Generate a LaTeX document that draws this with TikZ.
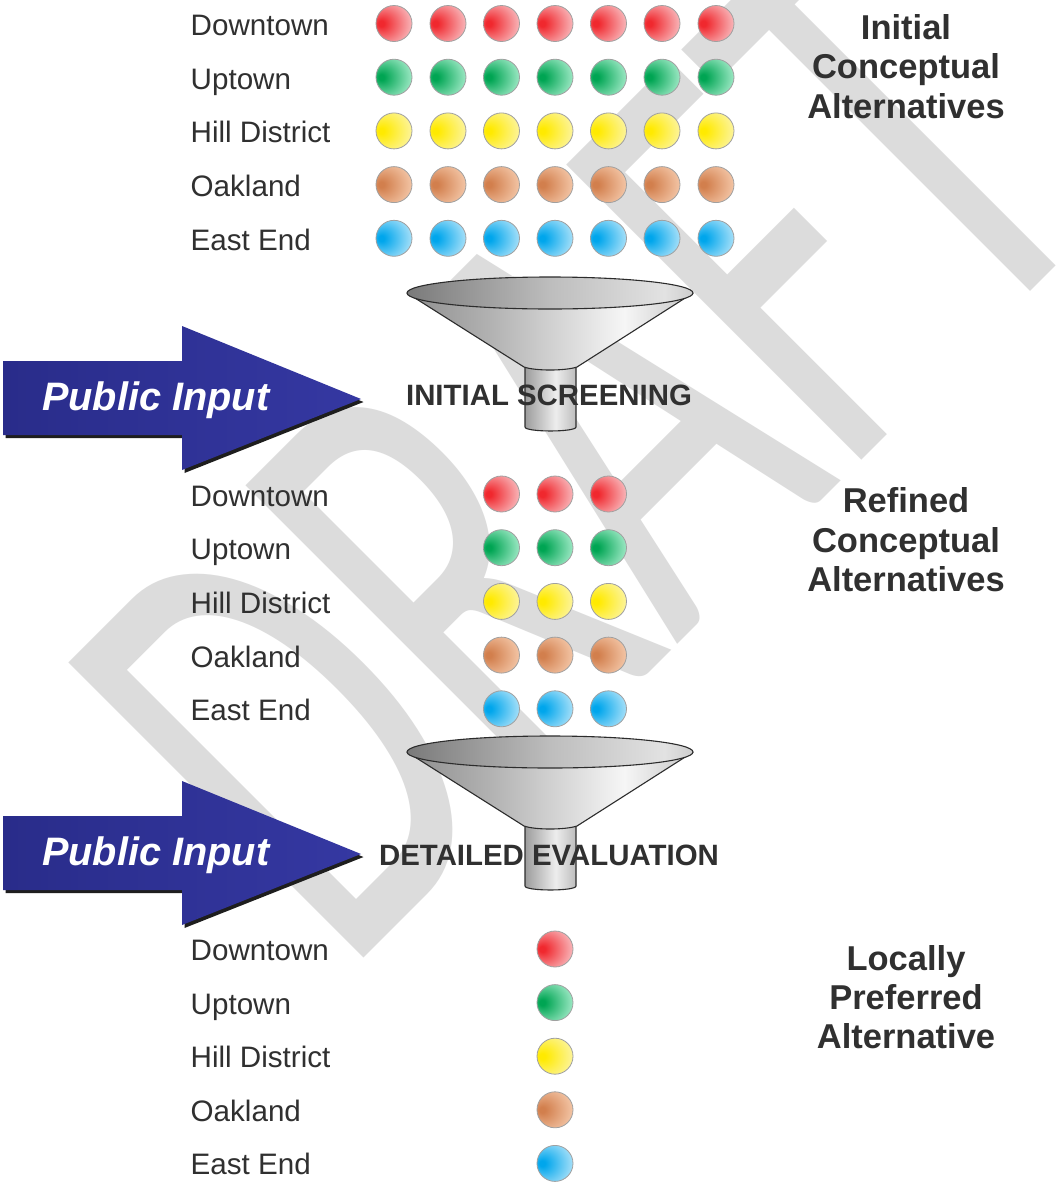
\documentclass[tikz,border=0pt]{standalone}
\usepackage{fontspec}
\setmainfont{Liberation Sans}
\newfontfamily\wmfont{Carlito}

% text and shape colours
\definecolor{ink}{HTML}{303030}
\definecolor{wm}{HTML}{DCDCDC}
\definecolor{rim}{HTML}{A0A0A0}
\definecolor{blueA}{HTML}{292C8A}
\definecolor{blueB}{HTML}{3538A2}
\definecolor{shadowcol}{HTML}{1E1E1E}
\definecolor{funnelline}{HTML}{2C2C2C}

% dot colours: saturated spot / pale edge
\definecolor{redA}{HTML}{F0282E}\definecolor{redB}{HTML}{FAD0D3}
\definecolor{grnA}{HTML}{00A553}\definecolor{grnB}{HTML}{B8F4D8}
\definecolor{yelA}{HTML}{FFEA00}\definecolor{yelB}{HTML}{FCF6B8}
\definecolor{orgA}{HTML}{D27F4D}\definecolor{orgB}{HTML}{F9D2B6}
\definecolor{bluA}{HTML}{00A6EC}\definecolor{bluB}{HTML}{C4EAFB}

% the bright spot sits near the left rim and fades towards the right
\newcommand\dotshading[3]{%
  \pgfdeclareradialshading{#1}{\pgfpoint{-19bp}{0bp}}{%
    color(0bp)=(#2); color(4bp)=(#2); color(39bp)=(#3); color(60bp)=(#3)}}
\dotshading{dotred}{redA}{redB}
\dotshading{dotgreen}{grnA}{grnB}
\dotshading{dotyellow}{yelA}{yelB}
\dotshading{dotorange}{orgA}{orgB}
\dotshading{dotblue}{bluA}{bluB}

% funnel shadings (path box spans 25bp..75bp)
\definecolor{coneA}{HTML}{8E8E8E}\definecolor{coneB}{HTML}{B3B3B3}
\definecolor{coneC}{HTML}{F6F6F6}\definecolor{coneD}{HTML}{C6C6C6}
\pgfdeclarehorizontalshading{conegrad}{100bp}{color(0bp)=(coneA); color(25bp)=(coneA);
  color(40bp)=(coneB); color(63bp)=(coneC); color(75bp)=(coneD); color(100bp)=(coneD)}
\definecolor{rimA}{HTML}{7A7A7A}\definecolor{rimB}{HTML}{BDBDBD}
\definecolor{rimC}{HTML}{E2E2E2}\definecolor{rimD}{HTML}{CDCDCD}
\pgfdeclarehorizontalshading{rimgrad}{100bp}{color(0bp)=(rimA); color(25bp)=(rimA);
  color(50bp)=(rimB); color(70bp)=(rimC); color(75bp)=(rimD); color(100bp)=(rimD)}
\definecolor{spA}{HTML}{9C9C9C}\definecolor{spB}{HTML}{EDEDED}\definecolor{spC}{HTML}{BDBDBD}
\pgfdeclarehorizontalshading{spoutgrad}{100bp}{color(0bp)=(spA); color(25bp)=(spA);
  color(55bp)=(spB); color(75bp)=(spC); color(100bp)=(spC)}

\begin{document}
\begin{tikzpicture}[x=1pt,y=-1pt,
  wmark/.style={transform shape, cm={2.864,2.864,-4.60,4.60,(344,978)},
    anchor=base west, inner sep=0pt, text=wm,
    font=\wmfont\fontsize{100}{100}\selectfont},
  place/.style={anchor=base west, inner sep=0pt, text=ink,
    font=\fontsize{29.6}{34}\selectfont},
  head/.style={anchor=base, inner sep=0pt, text=ink,
    font=\bfseries\fontsize{34.5}{40}\selectfont},
  stage/.style={anchor=base, inner sep=0pt, text=ink,
    font=\bfseries\fontsize{29.4}{34}\selectfont},
  pubtext/.style={anchor=base west, inner sep=0pt, text=white,
    font=\bfseries\itshape\fontsize{39.7}{44}\selectfont},
  dot/.style={circle, inner sep=0pt, minimum size=36pt, draw=rim,
    line width=0.8pt, shade, shading=#1},
  funneledge/.style={draw=funnelline, line width=1.1pt},
]
\useasboundingbox (0,0) rectangle (1059,1184);
\fill[white] (0,0) rectangle (1059,1184);

% watermark
\node[wmark] (draft) at (0,0) {DRAFT};

% "Public Input" arrows
\foreach \dy/\n in {0/1,455/2}{
  \begin{scope}[shift={(0,\dy)}]
    \fill[shadowcol, shift={(2.5,3)}] (3,361) -- (182,361) -- (182,326) -- (361,399)
      -- (182,470) -- (182,435) -- (3,435) -- cycle;
    \shade[left color=blueA, right color=blueB] (3,361) -- (182,361) -- (182,326)
      -- (361,399) -- (182,470) -- (182,435) -- (3,435) -- cycle;
    \node[pubtext] (pub\n) at (42,410) {Public Input};
  \end{scope}
}

% funnels
\foreach \dy in {0,459}{
  \begin{scope}[shift={(0,\dy)}]
    % spout
    \shade[shading=spoutgrad, funneledge] (525,366) -- (525,427)
      .. controls (525,432.3) and (576,432.3) .. (576,427) -- (576,366) -- cycle;
    % cone
    \shade[shading=conegrad] (407,293) -- (524,367)
      .. controls (535,371) and (565,371) .. (577,367) -- (693,293)
      arc[start angle=0, end angle=180, x radius=143, y radius=16] -- cycle;
    \draw[funneledge] (407,293) -- (524,367)
      .. controls (535,371) and (565,371) .. (577,367) -- (693,293);
    % opening
    \shade[shading=rimgrad, funneledge] (550,293) ellipse [x radius=143, y radius=16];
  \end{scope}
}

\node[stage] (screening) at (549,405.5) {INITIAL SCREENING};
\node[stage] (evaluation) at (549,865) {DETAILED EVALUATION};

% alternatives: labels and dots
\foreach \name [count=\r from 0] in {Downtown,Uptown,Hill District,Oakland,East End}{
  \node[place] (li\r) at (190.5,{35.5+53.7*\r}) {\name};
  \node[place] (lr\r) at (190.5,{506+53.7*\r}) {\name};
  \node[place] (lp\r) at (190.5,{960.5+53.6*\r}) {\name};
}
\foreach \col [count=\r from 0] in {dotred,dotgreen,dotyellow,dotorange,dotblue}{
  \foreach \x [count=\k] in {394,448,501.5,555,608.5,662,716}
    \node[dot=\col] (i\r-\k) at (\x,{23.5+53.7*\r}) {};
  \foreach \x [count=\k] in {501.5,555,608.5}
    \node[dot=\col] (r\r-\k) at (\x,{494+53.7*\r}) {};
  \node[dot=\col] (p\r) at (555,{949+53.6*\r}) {};
}

% stage headings
\node[head] (h1a) at (906,39.5) {Initial};
\node[head] (h1b) at (906,78.5) {Conceptual};
\node[head] (h1c) at (906,118) {Alternatives};
\node[head] (h2a) at (906,512.5) {Refined};
\node[head] (h2b) at (906,552) {Conceptual};
\node[head] (h2c) at (906,591) {Alternatives};
\node[head] (h3a) at (906,970) {Locally};
\node[head] (h3b) at (906,1009) {Preferred};
\node[head] (h3c) at (906,1048) {Alternative};
\end{tikzpicture}
\end{document}
